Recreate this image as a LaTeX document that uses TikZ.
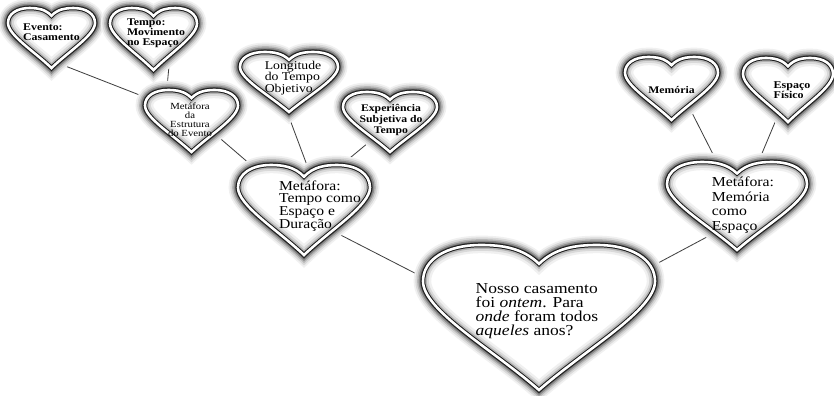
\documentclass[tikz,border=0pt]{standalone}
\usepackage{fontspec}
\setmainfont{Liberation Serif}[FakeStretch=1.15]
\usetikzlibrary{calc,backgrounds}

% outline of one heart, unit box, y pointing down
\newcommand{\heartshape}{(0,-0.37) .. controls (0.07,-0.48) and (0.16,-0.5) .. (0.25,-0.5)
 .. controls (0.4,-0.5) and (0.5,-0.4) .. (0.5,-0.25)
 .. controls (0.5,-0.05) and (0.2,0.22) .. (0,0.5)
 .. controls (-0.2,0.22) and (-0.5,-0.05) .. (-0.5,-0.25)
 .. controls (-0.5,-0.4) and (-0.4,-0.5) .. (-0.25,-0.5)
 .. controls (-0.16,-0.5) and (-0.07,-0.48) .. (0,-0.37) -- cycle}

\tikzset{
  heartline/.style={draw=black!90, line width=0.85pt, double=white, double distance=2.2pt},
  htext/.style={inner sep=0pt, align=left, text=black},
  link/.style={draw=black!75, line width=0.7pt},
}

% #1 name, #2 centre, #3 width, #4 height
\newcommand{\heart}[4]{%
  \coordinate (#1) at (#2);
  \begin{scope}[shift={(#1)}, xscale=#3, yscale=#4]
    \foreach \w/\g in {16/6,13/15,10/28,7.5/45,5/65}
      \draw[line width=\w pt, black!\g] \heartshape;
    \begin{scope}
      \clip \heartshape;
      \fill[white] \heartshape;
      \foreach \w/\g in {14/6,10/15,6.5/30}
        \draw[line width=\w pt, black!\g] \heartshape;
    \end{scope}
    \draw[heartline] \heartshape;
  \end{scope}}

\begin{document}
\begin{tikzpicture}[x=0.3mm, y=-0.3mm]
\useasboundingbox (0,0) rectangle (834,396);
\begin{pgfonlayer}{background}
\fill[white] (0,0) rectangle (834,396);
\end{pgfonlayer}

\heart{evento}{51.5,38}{87}{60}
\heart{tempo}{153.5,39}{87}{62}
\heart{estrutura}{191.5,121}{93}{62}
\heart{longitude}{289,82}{98}{60}
\heart{experiencia}{390,122}{94}{60}
\heart{tempoespaco}{304,210}{132}{90}
\heart{nosso}{539,317.5}{232}{145}
\heart{memoria}{671.5,88.5}{93}{63}
\heart{fisico}{788,90}{90}{64}
\heart{memespaco}{737,206}{140}{88}

\node[htext, font=\bfseries\fontsize{8.8}{8.6}\selectfont] (t-evento) at ($(evento)+(0,-6)$) {Evento:\\Casamento};
\node[htext, font=\bfseries\fontsize{8.8}{8.6}\selectfont] (t-tempo) at ($(tempo)+(2.5,-6)$) {Tempo:\\Movimento\\no Espaço};
\node[htext, align=center, font=\fontsize{8}{7.8}\selectfont] (t-estrutura) at ($(estrutura)+(-1.5,-1)$) {Metáfora\\da\\Estrutura\\do Evento};
\node[htext, font=\fontsize{10.2}{9.6}\selectfont] (t-longitude) at ($(longitude)+(4,-4)$) {Longitude\\do Tempo\\Objetivo};
\node[htext, align=center, font=\bfseries\fontsize{8.7}{9.1}\selectfont] (t-experiencia) at ($(experiencia)+(1,-2)$) {Experiência\\Subjetiva do\\Tempo};
\node[htext, font=\fontsize{11.6}{11}\selectfont] (t-tempoespaco) at ($(tempoespaco)+(16,-4)$) {Metáfora:\\Tempo como\\Espaço e\\Duração};
\node[htext, font=\fontsize{13}{12}\selectfont] (t-nosso) at ($(nosso)+(-2,-6)$) {Nosso casamento\\foi \textit{ontem}. Para\\\textit{onde} foram todos\\\textit{aqueles} anos?};
\node[htext, font=\bfseries\fontsize{8.7}{8.6}\selectfont] (t-memoria) at ($(memoria)+(0,1.5)$) {Memória};
\node[htext, font=\bfseries\fontsize{8.9}{9.1}\selectfont] (t-fisico) at ($(fisico)+(4,0)$) {Espaço\\Físico};
\node[htext, font=\fontsize{11.7}{12.4}\selectfont] (t-memespaco) at ($(memespaco)+(6,-1)$) {Metáfora:\\Memória\\como\\Espaço};

\begin{pgfonlayer}{background}
\path[link]
($(evento)+(3.5,24)$) edge ($(estrutura)+(-31.5,-18)$)
($(tempo)+(17,11)$) edge ($(estrutura)+(-25.7,-21)$)
($(estrutura)+(16.5,7)$) edge ($(tempoespaco)+(-39,-33)$)
($(longitude)+(-4.5,23)$) edge ($(tempoespaco)+(8.5,-30)$)
($(experiencia)+(-10,11)$) edge ($(tempoespaco)+(26,-35.5)$)
($(tempoespaco)+(21,17)$) edge ($(nosso)+(-99,-31.5)$)
($(memespaco)+(-17,24)$) edge ($(nosso)+(91,-39.5)$)
($(memoria)+(14,11.5)$) edge ($(memespaco)+(-16,-36)$)
($(fisico)+(-7,18)$) edge ($(memespaco)+(18,-36)$);
\end{pgfonlayer}
\end{tikzpicture}
\end{document}
